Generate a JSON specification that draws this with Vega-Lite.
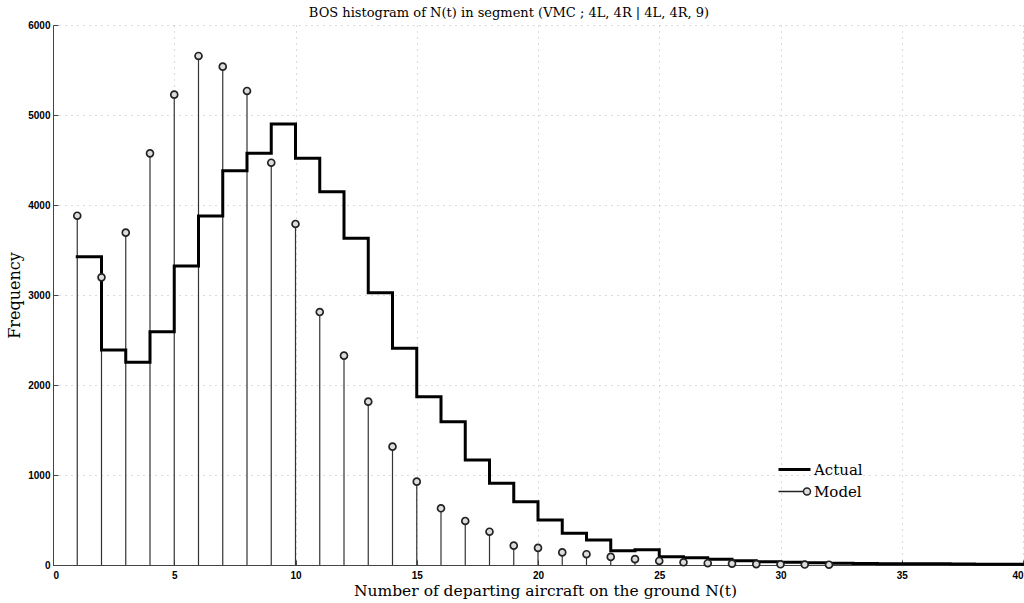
{
  "$schema": "https://vega.github.io/schema/vega-lite/v6.json",
  "width": 970,
  "height": 540,
  "autosize": {"type": "none"},
  "padding": {"left": 53, "top": 25, "right": 1, "bottom": 38},
  "background": "white",
  "title": {
    "text": "BOS histogram of N(t) in segment (VMC ; 4L, 4R | 4L, 4R, 9)",
    "font": "DejaVu Serif",
    "fontSize": 13,
    "fontWeight": "normal",
    "color": "black",
    "offset": 0,
    "dx": -29
  },
  "data": {
    "values": [
      {"n": 1, "actual": 3426, "model": 3881},
      {"n": 2, "actual": 2389, "model": 3196},
      {"n": 3, "actual": 2252, "model": 3693},
      {"n": 4, "actual": 2593, "model": 4574},
      {"n": 5, "actual": 3322, "model": 5226},
      {"n": 6, "actual": 3878, "model": 5656},
      {"n": 7, "actual": 4381, "model": 5537},
      {"n": 8, "actual": 4574, "model": 5267},
      {"n": 9, "actual": 4900, "model": 4470},
      {"n": 10, "actual": 4519, "model": 3789},
      {"n": 11, "actual": 4148, "model": 2811},
      {"n": 12, "actual": 3630, "model": 2326},
      {"n": 13, "actual": 3026, "model": 1815},
      {"n": 14, "actual": 2407, "model": 1315},
      {"n": 15, "actual": 1870, "model": 926},
      {"n": 16, "actual": 1593, "model": 630},
      {"n": 17, "actual": 1167, "model": 489},
      {"n": 18, "actual": 907, "model": 370},
      {"n": 19, "actual": 703, "model": 215},
      {"n": 20, "actual": 500, "model": 190},
      {"n": 21, "actual": 352, "model": 140},
      {"n": 22, "actual": 278, "model": 120},
      {"n": 23, "actual": 159, "model": 90},
      {"n": 24, "actual": 170, "model": 65},
      {"n": 25, "actual": 92, "model": 45},
      {"n": 26, "actual": 80, "model": 30},
      {"n": 27, "actual": 63, "model": 20},
      {"n": 28, "actual": 48, "model": 15},
      {"n": 29, "actual": 37, "model": 10},
      {"n": 30, "actual": 30, "model": 8},
      {"n": 31, "actual": 25, "model": 5},
      {"n": 32, "actual": 20, "model": 3},
      {"n": 33, "actual": 18},
      {"n": 34, "actual": 15},
      {"n": 35, "actual": 14},
      {"n": 36, "actual": 14},
      {"n": 37, "actual": 10},
      {"n": 38, "actual": 8},
      {"n": 39, "actual": 8},
      {"n": 40, "actual": 8}
    ]
  },
  "encoding": {
    "x": {
      "field": "n",
      "type": "quantitative",
      "scale": {"domain": [0, 40], "nice": false, "zero": false},
      "axis": {
        "title": "Number of departing aircraft on the ground N(t)",
        "values": [0, 5, 10, 15, 20, 25, 30, 35, 40],
        "format": "d",
        "titleFont": "DejaVu Serif",
        "titleFontSize": 15.5,
        "titleFontWeight": "normal",
        "titleColor": "black",
        "titlePadding": 3,
        "titleX": 492,
        "labelFont": "Liberation Sans",
        "labelFontSize": 10,
        "labelFontWeight": "bold",
        "labelColor": "black",
        "labelPadding": 10,
        "tickSize": -5,
        "tickColor": "#444",
        "domainColor": "#444",
        "grid": true,
        "gridColor": "#999",
        "gridDash": [1, 5],
        "gridOpacity": 0.7
      }
    }
  },
  "layer": [
    {
      "mark": {"type": "rule", "color": "#333", "strokeWidth": 1.2},
      "transform": [{"filter": "isValid(datum.model)"}],
      "encoding": {
        "y": {
          "field": "model",
          "type": "quantitative",
          "scale": {"domain": [0, 6000], "nice": false},
          "axis": {
            "title": "Frequency",
            "values": [0, 1000, 2000, 3000, 4000, 5000, 6000],
            "format": "d",
            "titleFont": "DejaVu Serif",
            "titleFontSize": 16,
            "titleFontWeight": "normal",
            "titleColor": "black",
            "titlePadding": 5,
            "labelFont": "Liberation Sans",
            "labelFontSize": 10,
            "labelFontWeight": "bold",
            "labelColor": "black",
            "labelPadding": 8,
            "tickSize": -5,
            "tickColor": "#444",
            "domainColor": "#444",
            "grid": true,
            "gridColor": "#999",
            "gridDash": [1, 5],
            "gridOpacity": 0.7
          }
        },
        "y2": {"datum": 0}
      }
    },
    {
      "mark": {"type": "line", "interpolate": "step-after", "strokeWidth": 3, "strokeJoin": "miter", "strokeCap": "square"},
      "encoding": {
        "y": {"field": "actual", "type": "quantitative"},
        "color": {
          "datum": "Actual",
          "type": "nominal",
          "scale": {"domain": ["Actual", "Model"], "range": ["#000000", "#222222"]},
          "legend": {
            "title": null,
            "orient": "none",
            "legendX": 734,
            "legendY": 437,
            "symbolSize": 1024,
            "labelFont": "DejaVu Serif",
            "labelFontSize": 15,
            "labelColor": "black",
            "labelOffset": 12,
            "rowPadding": 6,
            "encode": {
              "symbols": {
                "update": {
                  "shape": {"signal": "datum.value === 'Actual' ? 'M-1,0H1' : 'M-1,0H0.56M0.56,0A0.22,0.22 0 1,1 1,0A0.22,0.22 0 1,1 0.56,0'"},
                  "strokeWidth": {"signal": "datum.value === 'Actual' ? 3 : 1.5"},
                  "stroke": {"signal": "datum.value === 'Actual' ? '#000' : '#333'"},
                  "fill": {"signal": "datum.value === 'Actual' ? 'transparent' : '#ddd'"},
                  "opacity": {"value": 1}
                }
              }
            }
          }
        }
      }
    },
    {
      "mark": {"type": "point", "shape": "circle", "filled": false, "size": 48, "strokeWidth": 1.7, "fill": "#ddd", "fillOpacity": 1, "opacity": 1},
      "transform": [{"filter": "isValid(datum.model)"}],
      "encoding": {
        "y": {"field": "model", "type": "quantitative"},
        "color": {"datum": "Model", "type": "nominal"}
      }
    }
  ],
  "config": {
    "view": {"stroke": null}
  }
}
